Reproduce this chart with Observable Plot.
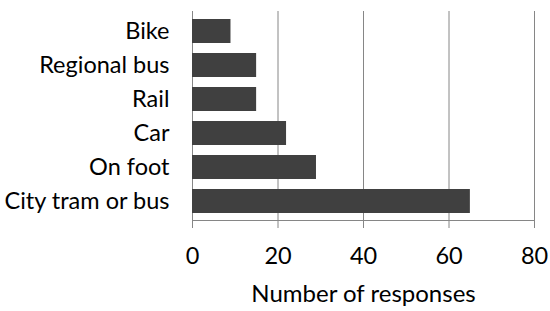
<!DOCTYPE html>
<html>
<head>
<meta charset="utf-8">
<script src="https://cdn.jsdelivr.net/npm/d3@7"></script>
<script src="https://cdn.jsdelivr.net/npm/@observablehq/plot@0.6"></script>
<style>
  html, body { margin: 0; padding: 0; background: #fff; }
  #chart svg { display: block; }
</style>
</head>
<body>
<div id="chart"></div>
<script>
const categories = ["Bike", "Regional bus", "Rail", "Car", "On foot", "City tram or bus"];
const responses = [9, 15, 15, 22, 29, 65];
const xTicks = [0, 20, 40, 60, 80];
const xLabel = "Number of responses";

const data = categories.map((c, i) => ({mode: c, value: responses[i]}));

const chart = Plot.plot({
  width: 550,
  height: 311,
  marginLeft: 192,
  marginRight: 16,
  marginTop: 11,
  marginBottom: 91,
  style: {fontFamily: "Lato, 'Open Sans', sans-serif", fontSize: "23px", color: "#000", background: "#fff"},
  x: {domain: [0, 80], ticks: xTicks},
  y: {domain: categories, paddingInner: 0.3, paddingOuter: 0.14},
  marks: [
    Plot.gridX(xTicks, {stroke: "#868686", strokeOpacity: 1, strokeWidth: 1}),
    Plot.frame({anchor: "bottom", stroke: "#868686"}),
    Plot.barX(data, {x: "value", y: "mode", fill: "#404040"}),
    Plot.axisX({ticks: xTicks, tickSize: 8, tickPadding: 19, stroke: "#868686", fill: "#000", label: null, fontSize: 23.5}),
    Plot.axisY({tickSize: 0, tickPadding: 23, label: null, fill: "#000", fontSize: 23.5}),
    Plot.text([xLabel], {frameAnchor: "bottom", dy: 81, fill: "#000", fontSize: 24})
  ]
});
document.getElementById("chart").append(chart);
</script>
</body>
</html>
